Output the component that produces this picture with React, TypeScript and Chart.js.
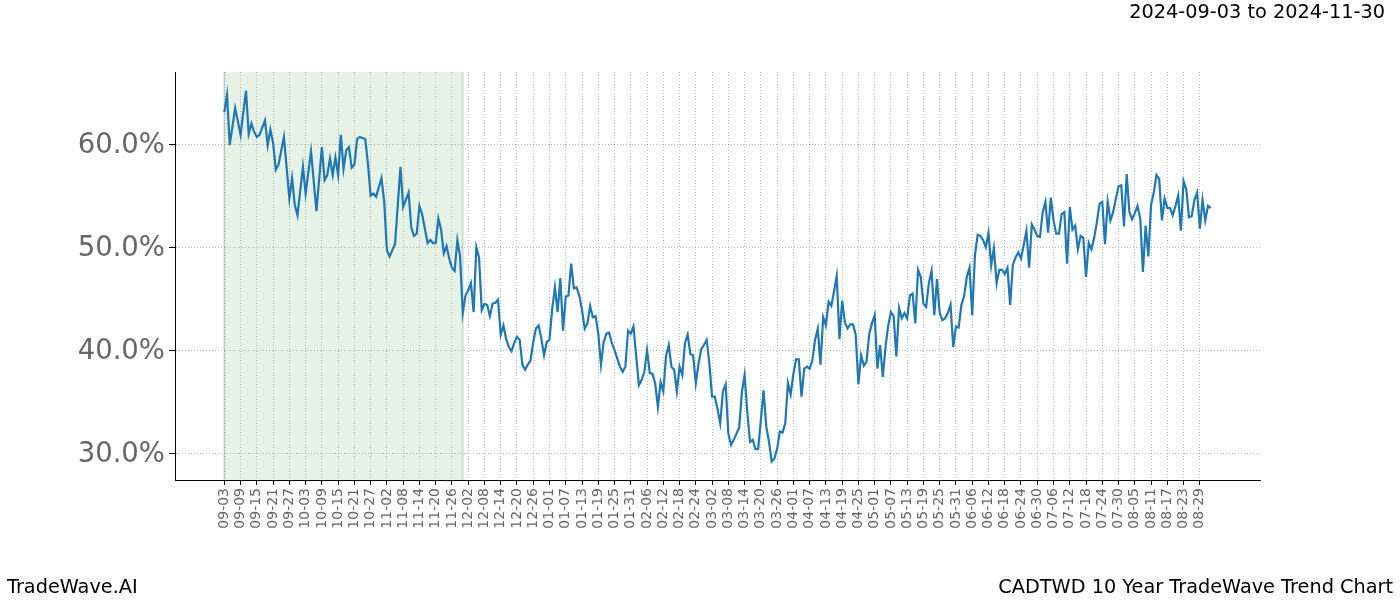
import React, { useEffect, useRef } from 'react';
import { Chart, registerables } from 'chart.js';

Chart.register(...registerables);

// ---- data ----
const titleText = '2024-09-03 to 2024-11-30';
const footerLeft = 'TradeWave.AI';
const footerRight = 'CADTWD 10 Year TradeWave Trend Chart';

// x tick labels (every 6 days starting 2024-09-03)
const tickLabels = [
  '09-03', '09-09', '09-15', '09-21', '09-27',
  '10-03', '10-09', '10-15', '10-21', '10-27',
  '11-02', '11-08', '11-14', '11-20', '11-26',
  '12-02', '12-08', '12-14', '12-20', '12-26',
  '01-01', '01-07', '01-13', '01-19', '01-25', '01-31',
  '02-06', '02-12', '02-18', '02-24',
  '03-02', '03-08', '03-14', '03-20', '03-26',
  '04-01', '04-07', '04-13', '04-19', '04-25',
  '05-01', '05-07', '05-13', '05-19', '05-25', '05-31',
  '06-06', '06-12', '06-18', '06-24', '06-30',
  '07-06', '07-12', '07-18', '07-24', '07-30',
  '08-05', '08-11', '08-17', '08-23', '08-29',
];
const tickStepDays = 6;

// daily values (%), index = days since 2024-09-03; null = no reading
const trendValues: (number | null)[] = [
  63.1, 64.8, 59.9, null, 63.5, null, 60.9, null, 65.2, 61.0,
  62.0, 61.2, 60.7, 60.9, null, 62.3, 59.9, 61.4, 60.1, 57.5,
  58.0, null, 60.7, null, 54.7, 56.7, 54.1, 53.1, null, 57.8,
  55.2, null, 59.3, null, 53.5, null, 59.7, 56.5, 57.0, 58.6,
  57.0, 58.7, 57.0, 60.9, 57.6, 59.4, 59.7, 57.7, 58.0, 60.5,
  60.7, null, 60.5, 58.1, 55.0, 55.2, 54.9, null, 56.7, 54.4,
  49.7, 49.1, null, 50.3, null, 57.8, 53.9, null, 55.3, 51.9,
  51.1, 51.3, 54.0, 53.2, null, 50.4, 50.7, 50.4, 50.4, 52.8,
  51.7, 49.4, 50.1, 48.9, 48.0, 47.7, 50.7, 49.1, 43.6, 45.3,
  45.8, 46.5, 43.7, 50.0, 49.0, 43.9, 44.5, 44.4, 43.3, 44.5,
  44.6, 44.9, 41.5, 42.4, 41.1, 40.3, 39.9, 40.7, 41.3, 41.0,
  38.6, 38.1, 38.6, 39.0, 40.8, 42.1, 42.4, 41.1, 39.5, 40.8,
  41.0, 44.0, 46.1, 43.7, 47.0, 41.9, 45.2, 45.3, 48.4, 46.0,
  46.1, 45.3, 43.9, 42.1, 42.6, 44.3, 43.2, 43.3, 41.6, 38.6,
  40.8, 41.6, 41.7, 40.7, 40.0, 39.2, 38.4, 37.9, 38.4, 41.9,
  41.6, 42.3, 39.4, 36.6, 37.1, 37.9, 40.0, 37.8, 37.7, 36.8,
  34.5, 36.9, 36.0, 39.4, 40.5, 38.4, 38.1, 36.0, 38.4, 37.6,
  40.7, 41.5, 39.6, 39.5, 36.8, 38.7, 40.1, 40.5, 41.0, 38.7,
  35.5, 35.5, 34.3, 32.9, 36.0, 36.7, 31.9, 30.8, 31.3, 31.9,
  32.5, 35.9, 37.6, 34.0, 31.1, 31.3, 30.4, 30.4, 33.2, 36.1,
  32.6, 31.1, 29.2, 29.5, 30.4, 32.1, 32.0, 32.9, 36.8, 35.7,
  37.7, 39.1, 39.1, 35.5, 38.2, 38.4, 38.2, 39.0, 41.0, 42.1,
  38.6, 43.2, 42.4, 44.7, 44.3, 45.7, 47.2, 41.1, 44.8, 42.7,
  42.1, 42.5, 42.5, 41.5, 36.7, 39.5, 38.5, 38.9, 41.6, 42.6,
  43.4, 38.2, 40.5, 37.4, 40.3, 42.4, 43.7, 43.3, 39.4, 44.1,
  43.1, 43.6, 43.1, 45.3, 45.5, 42.6, 47.8, 47.1, 44.5, 44.2,
  46.5, 47.7, 43.4, 46.9, 43.6, 42.9, 43.1, 43.6, 44.4, 40.3,
  42.3, 42.2, 44.4, 45.2, 47.1, 48.0, 43.4, 49.2, 51.2, 51.1,
  50.7, 50.0, 51.4, 48.2, 49.9, 46.5, 47.8, 47.8, 47.4, 48.0,
  44.4, 48.3, 49.0, 49.5, 48.9, 50.2, 51.6, 48.0, 52.2, 51.7,
  51.1, 51.0, 53.4, 54.4, 51.4, 54.8, 52.6, 51.3, 51.3, 53.2,
  53.4, 48.4, 53.9, 51.7, 52.1, 49.8, 51.1, 50.9, 47.1, 50.4,
  49.8, 50.9, 52.4, 54.2, 54.4, 50.3, 54.4, 52.6, 53.4, 54.7,
  55.9, 56.0, 52.0, 57.1, 53.4, 52.7, 53.3, 54.0, 52.8, 47.6,
  52.1, 49.1, 54.1, 55.3, 57.0, 56.6, 52.6, 54.7, 53.8, 53.8,
  53.1, 54.0, 55.0, 51.6, 56.4, 55.6, 52.9, 53.0, 54.6, 55.3,
  51.8, 54.6, 52.6, 54.0, 53.8,
];

// highlighted period (days since start): 2024-09-03 .. 2024-11-30
const shadeFromDay = 0;
const shadeToDay = 88;

const yTickValues = [30, 40, 50, 60];

const FONT = "'DejaVu Sans', sans-serif";

export default function App() {
  const canvasRef = useRef<HTMLCanvasElement>(null);

  useEffect(() => {
    document.body.style.margin = '0';
    const canvas = canvasRef.current;
    if (!canvas) return;

    const lastDay = trendValues.length - 1;
    const xMin = -0.05 * lastDay;
    const xMax = lastDay * 1.05;
    const valid = trendValues.filter((v) => v !== null) as number[];
    const lo = Math.min(...valid);
    const hi = Math.max(...valid);
    const pad = (hi - lo) * 0.05;

    const points = trendValues.map((v, i) => ({ x: i, y: v }));

    const shadePlugin = {
      id: 'shadePlugin',
      beforeDatasetsDraw(chart: any) {
        const { ctx, chartArea, scales } = chart;
        const xs = scales.x;
        const x0 = xs.getPixelForValue(shadeFromDay);
        const x1 = xs.getPixelForValue(shadeToDay);
        ctx.save();
        ctx.fillStyle = 'rgba(0,128,0,0.1)';
        ctx.fillRect(x0, chartArea.top, x1 - x0, chartArea.bottom - chartArea.top);
        ctx.strokeStyle = 'rgba(60,90,60,0.18)';
        ctx.lineWidth = 2;
        ctx.beginPath();
        ctx.moveTo(x0, chartArea.top);
        ctx.lineTo(x0, chartArea.bottom);
        ctx.moveTo(x1, chartArea.top);
        ctx.lineTo(x1, chartArea.bottom);
        ctx.stroke();
        ctx.restore();
      },
    };

    const gridOpts: any = {
      color: 'rgba(0,0,0,0.35)',
      lineWidth: 0.8,
      drawTicks: true,
      tickColor: '#000',
      tickWidth: 1,
      tickBorderDash: [],
    };

    const chart = new Chart(canvas, {
      type: 'line',
      data: {
        datasets: [
          {
            data: points as any,
            borderColor: '#1f77b4',
            borderWidth: 2.2,
            pointRadius: 0,
            spanGaps: true,
            tension: 0,
            fill: false,
          },
        ],
      },
      options: {
        animation: false,
        responsive: false,
        devicePixelRatio: 1,
        layout: { padding: { left: 0, right: 140, top: 72, bottom: 0 } },
        plugins: { legend: { display: false }, tooltip: { enabled: false } },
        scales: {
          x: {
            type: 'linear',
            min: xMin,
            max: xMax,
            afterBuildTicks: (scale: any) => {
              scale.ticks = tickLabels.map((_, i) => ({ value: i * tickStepDays }));
            },
            afterFit: (scale: any) => {
              scale.height = 120;
            },
            ticks: {
              autoSkip: false,
              minRotation: 90,
              maxRotation: 90,
              padding: 3,
              color: '#666666',
              font: { family: FONT, size: 14 },
              callback: (value: any) => {
                const idx = Math.round(Number(value) / tickStepDays);
                return tickLabels[idx] ?? '';
              },
            },
            grid: { ...gridOpts, tickLength: 5 },
            border: { display: true, color: '#000', width: 1, dash: [1, 2] } as any,
          },
          y: {
            type: 'linear',
            min: lo - pad,
            max: hi + pad,
            afterBuildTicks: (scale: any) => {
              scale.ticks = yTickValues.map((v) => ({ value: v }));
            },
            afterFit: (scale: any) => {
              scale.width = 175;
            },
            ticks: {
              padding: 4,
              labelOffset: 2,
              color: '#666666',
              font: { family: FONT, size: 27.5 },
              callback: (value: any) => `${Number(value).toFixed(1)}%`,
            },
            grid: { ...gridOpts, tickLength: 6 },
            border: { display: true, color: '#000', width: 1, dash: [1, 2] } as any,
          },
        },
      },
      plugins: [shadePlugin],
    });

    return () => chart.destroy();
  }, []);

  const textBase: React.CSSProperties = {
    position: 'absolute',
    fontFamily: FONT,
    fontSize: '19.3px',
    lineHeight: '23px',
    color: '#000',
    whiteSpace: 'nowrap',
  };

  return (
    <div style={{ position: 'fixed', left: 0, top: 0, width: 1400, height: 600, background: '#fff' }}>
      <canvas ref={canvasRef} width={1400} height={600} style={{ display: 'block' }} />
      <div style={{ ...textBase, right: 15, top: 0 }}>{titleText}</div>
      <div style={{ ...textBase, left: 7, top: 575 }}>{footerLeft}</div>
      <div style={{ ...textBase, right: 7, top: 575 }}>{footerRight}</div>
    </div>
  );
}
